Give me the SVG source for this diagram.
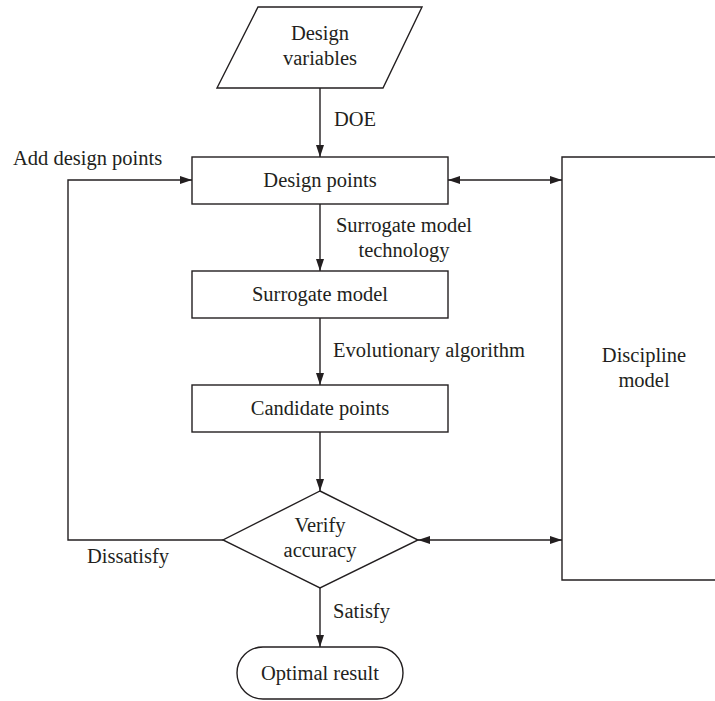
<svg xmlns="http://www.w3.org/2000/svg" width="715" height="701" viewBox="0 0 715 701">
  <style>
    .shape { fill: #ffffff; stroke: #231f20; stroke-width: 1.4; }
    .edge { fill: none; stroke: #231f20; stroke-width: 1.4; }
    text { font-family: "Liberation Serif", "Times New Roman", serif; font-size: 20.5px; fill: #231f20; }
    .c { text-anchor: middle; }
  </style>
  <defs>
    <marker id="arrow" viewBox="0 0 12 8" refX="12" refY="4" markerWidth="12" markerHeight="8" markerUnits="userSpaceOnUse" orient="auto-start-reverse">
      <path d="M0,0 L12,4 L0,8 Z" fill="#231f20"/>
    </marker>
  </defs>

  <rect width="715" height="701" fill="#ffffff"/>

  <!-- connectors -->
  <g id="connectors">
    <path class="edge" d="M320,88 V157" marker-end="url(#arrow)"/>
    <path class="edge" d="M320,204 V271" marker-end="url(#arrow)"/>
    <path class="edge" d="M320,318 V385" marker-end="url(#arrow)"/>
    <path class="edge" d="M320,432 V491" marker-end="url(#arrow)"/>
    <path class="edge" d="M320,588 V647" marker-end="url(#arrow)"/>
    <path class="edge" d="M223,540 H68 V180 H192" marker-end="url(#arrow)"/>
    <path class="edge" d="M448,180 H562" marker-start="url(#arrow)" marker-end="url(#arrow)"/>
    <path class="edge" d="M418,540 H562" marker-start="url(#arrow)" marker-end="url(#arrow)"/>
    <text x="334" y="126">DOE</text>
    <text class="c" x="404" y="232">Surrogate model</text>
    <text class="c" x="404" y="257">technology</text>
    <text x="333" y="357">Evolutionary algorithm</text>
    <text x="13" y="165">Add design points</text>
    <text x="87" y="563">Dissatisfy</text>
    <text x="333" y="618">Satisfy</text>
  </g>

  <g id="design-variables">
    <polygon class="shape" points="258,7 422,7 383,88 217,88"/>
    <text class="c" x="320" y="40">Design</text>
    <text class="c" x="320" y="65">variables</text>
  </g>

  <g id="design-points">
    <rect class="shape" x="192" y="157" width="256" height="47"/>
    <text class="c" x="320" y="187">Design points</text>
  </g>

  <g id="surrogate-model">
    <rect class="shape" x="192" y="271" width="256" height="47"/>
    <text class="c" x="320" y="301">Surrogate model</text>
  </g>

  <g id="candidate-points">
    <rect class="shape" x="192" y="385" width="256" height="47"/>
    <text class="c" x="320" y="415">Candidate points</text>
  </g>

  <g id="verify-accuracy">
    <polygon class="shape" points="320,491 418,540 320,588 223,540"/>
    <text class="c" x="320" y="532">Verify</text>
    <text class="c" x="320" y="557">accuracy</text>
  </g>

  <g id="optimal-result">
    <rect class="shape" x="237" y="647" width="166" height="52" rx="26" ry="26"/>
    <text class="c" x="320" y="680">Optimal result</text>
  </g>

  <g id="discipline-model">
    <path class="shape" d="M720,157 H562 V580 H720"/>
    <text class="c" x="644" y="362">Discipline</text>
    <text class="c" x="644" y="387">model</text>
  </g>
</svg>
